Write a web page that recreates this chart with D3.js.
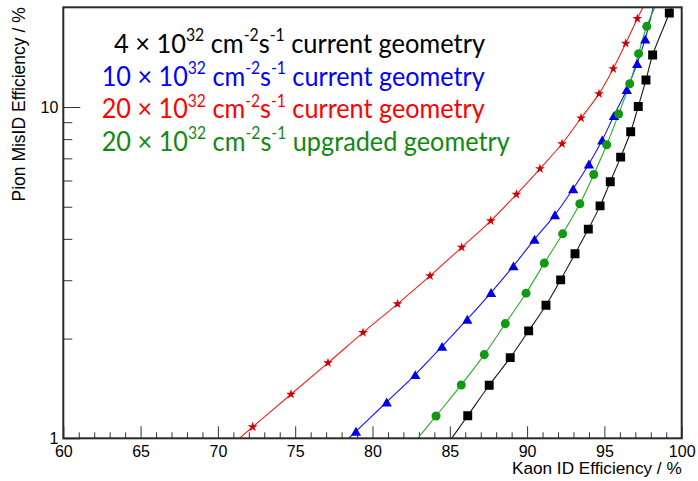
<!DOCTYPE html>
<html>
<head>
<meta charset="utf-8">
<script src="https://cdn.jsdelivr.net/npm/d3@7"></script>
<style>
  body { margin: 0; background: #ffffff; }
  svg { display: block; }
</style>
</head>
<body>
<svg id="chart" width="698" height="481"></svg>
<script>
// Kaon ID efficiency (%) vs pion mis-ID efficiency (%) for four running conditions.
// The first and last point of each curve lie just outside the frame so the
// clipped curves run out to the axes.
const kaonEff_4e32_current = [84.76, 86.16, 87.55, 88.91, 90.10, 91.22, 92.17, 93.10, 93.96, 94.72, 95.38, 96.05, 96.70, 97.19, 97.69, 98.12, 99.20, 99.60];
const pionMis_4e32_current = [0.947, 1.170, 1.446, 1.752, 2.110, 2.522, 3.008, 3.605, 4.280, 5.03, 5.95, 7.06, 8.42, 10.04, 12.07, 14.36, 19.22, 22.0];

const kaonEff_10e32_current = [76.99, 78.93, 80.92, 82.77, 84.50, 86.13, 87.67, 89.12, 90.48, 91.80, 92.98, 94.00, 94.86, 95.62, 96.45, 97.12, 97.64, 98.27];
const pionMis_10e32_current = [0.86, 1.050, 1.287, 1.557, 1.894, 2.288, 2.754, 3.315, 3.987, 4.727, 5.665, 6.73, 7.95, 9.43, 11.30, 13.54, 16.05, 21.0];

const kaonEff_20e32_current = [69.77, 72.25, 74.73, 77.12, 79.39, 81.62, 83.72, 85.77, 87.65, 89.31, 90.83, 92.26, 93.49, 94.65, 95.57, 96.38, 97.13, 97.88];
const pionMis_20e32_current = [0.862, 1.082, 1.358, 1.689, 2.085, 2.545, 3.093, 3.771, 4.535, 5.452, 6.511, 7.746, 9.264, 10.96, 13.05, 15.57, 18.48, 21.7];

const kaonEff_20e32_upgraded = [82.47, 84.11, 85.74, 87.23, 88.59, 89.93, 91.11, 92.30, 93.41, 94.31, 95.15, 95.92, 96.64, 97.21, 97.74, 98.58];
const pionMis_20e32_upgraded = [0.941, 1.168, 1.449, 1.789, 2.219, 2.742, 3.379, 4.142, 5.104, 6.257, 7.692, 9.525, 11.76, 14.49, 17.52, 21.5];

// Legend text pieces
const lumiFactors = ["4", "10", "20", "20"];
const geometryLabels = ["current geometry", "current geometry", "current geometry", "upgraded geometry"];

// Axis ticks
const xTickLabels = [60, 65, 70, 75, 80, 85, 90, 95, 100];
const yTickLabels = [1, 10];
const xTitle = "Kaon ID Efficiency / %";
const yTitle = "Pion MisID Efficiency / %";

// ---------------------------------------------------------------------------
const svg = d3.select("#chart");
const W = 698, H = 481;
const frame = { left: 63.3, right: 681.7, top: 7.3, bottom: 438.3 };

const x = d3.scaleLinear().domain([60, 100]).range([frame.left, frame.right]);
const y = d3.scaleLog().domain([1, 20]).range([frame.bottom, frame.top]);

svg.append("rect").attr("width", W).attr("height", H).attr("fill", "#ffffff");

svg.append("defs").append("clipPath").attr("id", "plotClip")
  .append("rect")
  .attr("x", frame.left).attr("y", frame.top)
  .attr("width", frame.right - frame.left)
  .attr("height", frame.bottom - frame.top);

// Triangle centred on its bounding box (apex up)
const triangleUp = {
  draw(ctx, size) {
    const s = Math.sqrt(size * 4 / Math.sqrt(3)); // side
    const h = s * Math.sqrt(3) / 2;
    ctx.moveTo(0, -h / 2);
    ctx.lineTo(s / 2, h / 2);
    ctx.lineTo(-s / 2, h / 2);
    ctx.closePath();
  }
};

const series = [
  { xs: kaonEff_4e32_current,   ys: pionMis_4e32_current,   line: "#1a1a1a", fill: "#000000", symbol: d3.symbolSquare, size: 80 },
  { xs: kaonEff_10e32_current,  ys: pionMis_10e32_current,  line: "#1010ff", fill: "#0000e6", symbol: triangleUp,      size: 46 },
  { xs: kaonEff_20e32_current,  ys: pionMis_20e32_current,  line: "#ee2020", fill: "#d00000", symbol: d3.symbolStar,   size: 30 },
  { xs: kaonEff_20e32_upgraded, ys: pionMis_20e32_upgraded, line: "#2aaa2a", fill: "#119911", symbol: d3.symbolCircle, size: 64 }
];

// ---- axes (ticks point into the frame) ----
const axisFont = "'Liberation Sans', Arial, Helvetica, sans-serif";
const xMinor = d3.range(60, 101).filter(v => v % 5 !== 0);
const yMinor = [2, 3, 4, 5, 6, 7, 8, 9];

const gx = svg.append("g").attr("transform", `translate(0,${frame.bottom})`);
gx.append("g").call(d3.axisBottom(x).tickValues(xMinor).tickSize(-6).tickFormat(""));
gx.append("g").call(d3.axisBottom(x).tickValues(xTickLabels).tickSize(-12).tickPadding(7).tickFormat(d3.format("d")));
gx.selectAll(".domain").remove();
gx.selectAll("line").attr("stroke", "#333").attr("stroke-width", 1);
gx.selectAll("text").attr("font-family", axisFont).attr("font-size", 16).attr("fill", "#000");

const gy = svg.append("g").attr("transform", `translate(${frame.left},0)`);
gy.append("g").call(d3.axisLeft(y).tickValues(yMinor).tickSize(-9).tickFormat(""));
gy.append("g").call(d3.axisLeft(y).tickValues(yTickLabels).tickSize(-17).tickPadding(5).tickFormat(d3.format("d")));
gy.selectAll(".domain").remove();
gy.selectAll("line").attr("stroke", "#333").attr("stroke-width", 1);
gy.selectAll("text").attr("font-family", axisFont).attr("font-size", 16).attr("fill", "#000");

svg.append("text")
  .attr("x", frame.right).attr("y", 474)
  .attr("text-anchor", "end")
  .attr("font-family", axisFont).attr("font-size", 17.2).attr("fill", "#000")
  .text(xTitle);

svg.append("text")
  .attr("transform", `translate(24.5,${frame.top}) rotate(-90)`)
  .attr("text-anchor", "end")
  .attr("font-family", axisFont).attr("font-size", 17.5).attr("fill", "#000")
  .text(yTitle);

// ---- curves and markers ----
const plot = svg.append("g").attr("clip-path", "url(#plotClip)");
const lineGen = d3.line().x(d => x(d[0])).y(d => y(d[1])).curve(d3.curveCatmullRom.alpha(0.5));

series.forEach(s => {
  const pts = s.xs.map((v, i) => [v, s.ys[i]]);
  plot.append("path")
    .attr("d", lineGen(pts))
    .attr("fill", "none")
    .attr("stroke", s.line)
    .attr("stroke-width", 1.1);
});

series.forEach(s => {
  const pts = s.xs.map((v, i) => [v, s.ys[i]]);
  const sym = d3.symbol().type(s.symbol).size(s.size);
  plot.append("g").selectAll("path")
    .data(pts)
    .join("path")
    .attr("transform", d => `translate(${x(d[0])},${y(d[1])})`)
    .attr("d", sym)
    .attr("fill", s.fill);
});

// ---- frame ----
svg.append("rect")
  .attr("x", frame.left).attr("y", frame.top)
  .attr("width", frame.right - frame.left)
  .attr("height", frame.bottom - frame.top)
  .attr("fill", "none")
  .attr("stroke", "#2a2a2a")
  .attr("stroke-width", 2);

// ---- legend text ----
const legendFont = "Lato, 'Open Sans', sans-serif";
const legendColors = ["#000000", "#0000ff", "#ff0000", "#118811"];
const legendStart = [114, 101.7, 101.7, 101.7];
const legendEnd = [485, 485, 485, 510];
const FS = 27.5;
const supShift = FS * 0.42;

lumiFactors.forEach((f, i) => {
  const base = 53 + 32.67 * i;
  const g = svg.append("g");
  const t = g.append("text")
    .attr("font-family", legendFont)
    .attr("font-size", FS)
    .attr("fill", legendColors[i]);
  t.append("tspan").text(`${f} \u00d7 10`);
  t.append("tspan").attr("font-size", FS * 0.62).attr("dy", -supShift).text("32");
  t.append("tspan").attr("dy", supShift).text(" cm");
  t.append("tspan").attr("font-size", FS * 0.62).attr("dy", -supShift).text("-2");
  t.append("tspan").attr("dy", supShift).text("s");
  t.append("tspan").attr("font-size", FS * 0.62).attr("dy", -supShift).text("-1");
  t.append("tspan").attr("dy", supShift).text(" " + geometryLabels[i]);
  const w = t.node().getComputedTextLength();
  const k = (legendEnd[i] - legendStart[i]) / w;
  g.attr("transform", `translate(${legendStart[i]},${base}) scale(${k},1)`);
});
</script>
</body>
</html>
